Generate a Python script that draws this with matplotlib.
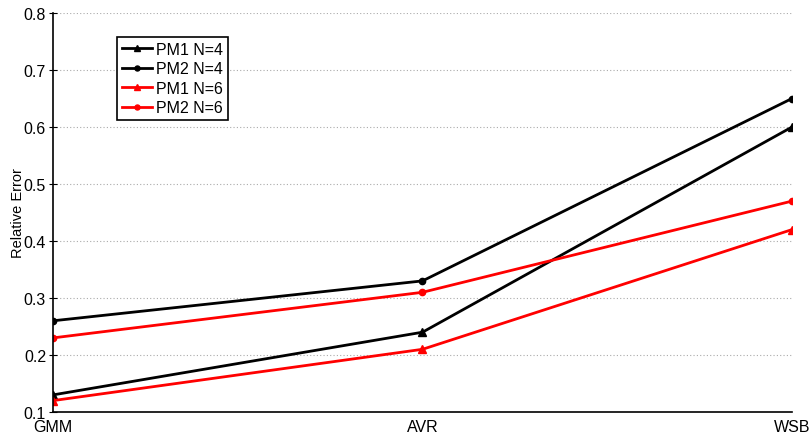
import numpy as np
import matplotlib; matplotlib.use('Agg')
import matplotlib.pyplot as plt

CATS = ['GMM', 'AVR', 'WSB']
PM1_N4 = [0.13, 0.24, 0.60]
PM2_N4 = [0.26, 0.33, 0.65]
PM1_N6 = [0.12, 0.21, 0.42]
PM2_N6 = [0.23, 0.31, 0.47]

plt.rcParams['font.family'] = ['Liberation Sans', 'DejaVu Sans']

fig = plt.figure(figsize=(8.12, 4.39), dpi=100)
ax = fig.add_axes([53/812, 1 - 413/439, (792-53)/812, (413-14)/439])
x = np.arange(len(CATS))
ax.plot(x, PM1_N4, '-^', color='k', lw=2, ms=6, label='PM1 N=4')
ax.plot(x, PM2_N4, '-o', color='k', lw=2, ms=4.5, label='PM2 N=4')
ax.plot(x, PM1_N6, '-^', color='r', lw=2, ms=6, label='PM1 N=6')
ax.plot(x, PM2_N6, '-o', color='r', lw=2, ms=4.5, label='PM2 N=6')

ax.set_xlim(0, 2)
ax.set_ylim(0.1, 0.8)
ax.set_xticks(x)
ax.set_xticklabels(CATS)
ax.set_yticks(np.arange(0.1, 0.81, 0.1))
ax.set_yticklabels([f'{v:.1f}' for v in np.arange(0.1, 0.81, 0.1)])
ax.grid(True, axis='y', ls=(0, (1, 2)), color='#aaaaaa', lw=0.8)
for s in ['top', 'right']:
    ax.spines[s].set_visible(False)
for s in ['left', 'bottom']:
    ax.spines[s].set_linewidth(1.2)
ax.tick_params(axis='y', direction='inout', length=6, labelsize=11.5, pad=2)
ax.tick_params(axis='x', length=0, labelsize=11.5, pad=5)
ax.set_ylabel('Relative Error', fontsize=10.5)
ax.yaxis.set_label_coords(-0.038, 0.5)

leg = ax.legend(loc='upper left', bbox_to_anchor=(0.087, 0.94), fontsize=11.5,
                fancybox=False, edgecolor='k', framealpha=1, handlelength=1.9,
                borderpad=0.3, borderaxespad=0, labelspacing=0.28, handletextpad=0.25,
                markerscale=0.8)
leg.get_frame().set_linewidth(1.2)

fig.savefig('out.png', dpi=100)
